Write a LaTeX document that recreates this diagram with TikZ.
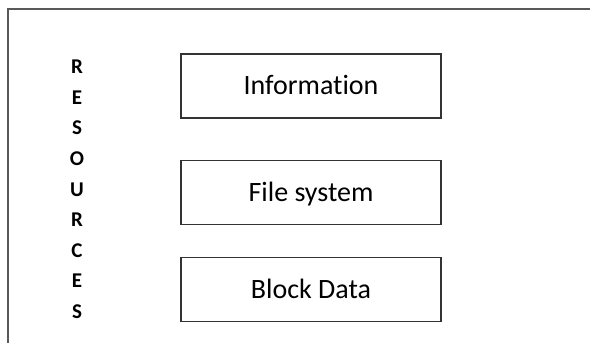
\documentclass[tikz,border=0pt]{standalone}
\usepackage{fontspec}
\setmainfont{Carlito}[Ligatures={NoCommon}]
\usetikzlibrary{positioning}

\begin{document}
\begin{tikzpicture}[
        x=1pt, y=1pt,
        node distance=41pt,
        layer/.style={draw=black!80, line width=1.3pt, minimum width=260pt, minimum height=64pt,
            inner sep=0pt, font=\fontsize{28}{32}\selectfont, text height=18pt, text depth=0pt},
        restext/.style={inner sep=0pt, font=\fontsize{21}{25}\selectfont\bfseries,
            text height=13.5pt, text depth=0pt}
    ]
    \useasboundingbox (0,0) rectangle (590,343);
    \begin{scope}
        \clip (0,0) rectangle (590,343);
        \draw[black!65, line width=1.5pt] (8,-20) rectangle (610,334);
    \end{scope}

    \node[layer] (info) at (311,257) {Information};
    \node[layer, below=of info] (fs) {File system};
    \node[layer, below=32pt of fs] (block) {Block Data};

    % letters of the side label, one below the other
    \foreach \ch [count=\i] in {R,E,S,O,U,R,C,E,S}
        \node[restext] (res\i) at (77,276-30.6*\i+30.6) {\ch};
\end{tikzpicture}
\end{document}
